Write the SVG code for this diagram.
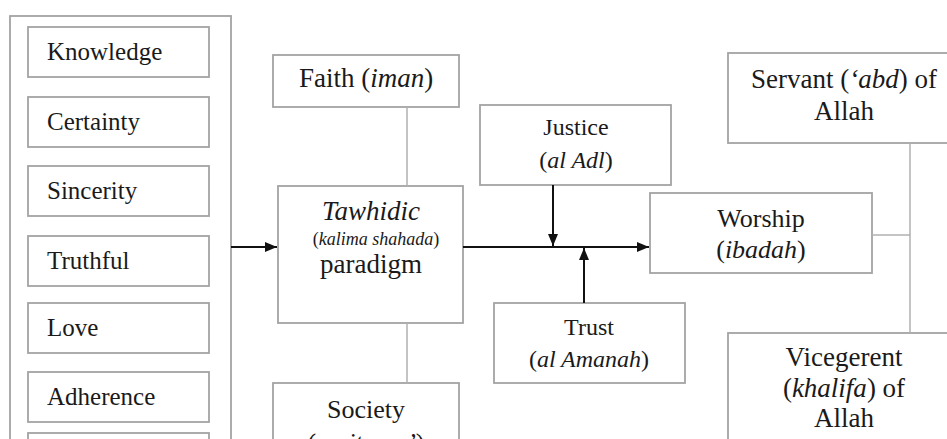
<svg xmlns="http://www.w3.org/2000/svg" width="947" height="439" viewBox="0 0 947 439">
<defs>
<marker id="ah" viewBox="0 0 12 10" refX="12" refY="5" markerWidth="12" markerHeight="10" markerUnits="userSpaceOnUse" orient="auto">
<path d="M0,0 L12,5 L0,10 z" fill="#111"/>
</marker>
</defs>
<style>
rect{fill:#fff;stroke:#a3a3a3;stroke-width:1.8}
text{font-family:"Liberation Serif","Times New Roman",serif;fill:#1a1a1a;font-size:25px}
.c{text-anchor:middle}
.i{font-style:italic}
.gl{stroke:#b0b0b0;stroke-width:1.5;fill:none}
.ar{stroke:#111;stroke-width:2;fill:none;marker-end:url(#ah)}
</style>
<rect width="947" height="439" style="fill:#fff;stroke:none"/>
<g id="attributes">
<rect x="10" y="16" width="221" height="440"/>
<g id="knowledge"><rect x="28" y="27" width="181" height="50"/><text x="47" y="60">Knowledge</text></g>
<g id="certainty"><rect x="28" y="97" width="181" height="50"/><text x="47" y="130">Certainty</text></g>
<g id="sincerity"><rect x="28" y="166" width="181" height="50"/><text x="47" y="199">Sincerity</text></g>
<g id="truthful"><rect x="28" y="236" width="181" height="50"/><text x="47" y="269">Truthful</text></g>
<g id="love"><rect x="28" y="303" width="181" height="50"/><text x="47" y="336">Love</text></g>
<g id="adherence"><rect x="28" y="372" width="181" height="50"/><text x="47" y="405">Adherence</text></g>
<g id="attr7"><rect x="28" y="433" width="181" height="50"/></g>
</g>
<g id="faith"><rect x="273" y="55" width="186" height="52"/><text class="c" x="366" y="87" style="font-size:27px">Faith (<tspan class="i">iman</tspan>)</text></g>
<g id="tawhidic"><rect x="278" y="186" width="185" height="137"/>
<text class="c i" x="371" y="220" style="font-size:27px">Tawhidic</text>
<text class="c" x="376" y="245" style="font-size:18px">(<tspan class="i">kalima shahada</tspan>)</text>
<text class="c" x="371" y="273" style="font-size:27px">paradigm</text></g>
<g id="society"><rect x="273" y="383" width="186" height="80"/><text class="c" x="366" y="418" style="font-size:26px">Society</text><text class="c" x="366" y="451" style="font-size:26px">(<tspan class="i">mujtama’</tspan>)</text></g>
<g id="justice"><rect x="480" y="105" width="191" height="80"/><text class="c" x="576" y="135" style="font-size:24px">Justice</text><text class="c" x="576" y="168" style="font-size:24px">(<tspan class="i">al Adl</tspan>)</text></g>
<g id="trust"><rect x="494" y="303" width="191" height="80"/><text class="c" x="589" y="335" style="font-size:24px">Trust</text><text class="c" x="589" y="367" style="font-size:24px">(<tspan class="i">al Amanah</tspan>)</text></g>
<g id="worship"><rect x="650" y="193" width="222" height="80"/><text class="c" x="761" y="227" style="font-size:26px">Worship</text><text class="c" x="761" y="258" style="font-size:26px">(<tspan class="i">ibadah</tspan>)</text></g>
<g id="servant"><rect x="728" y="53" width="232" height="90"/><text class="c" x="844" y="88" style="font-size:27px">Servant (<tspan class="i">‘abd</tspan>) of</text><text class="c" x="844" y="120" style="font-size:27px">Allah</text></g>
<g id="vicegerent"><rect x="728" y="333" width="232" height="130"/><text class="c" x="844" y="366" style="font-size:27px">Vicegerent</text><text class="c" x="844" y="397" style="font-size:27px">(<tspan class="i">khalifa</tspan>) of</text><text class="c" x="844" y="427" style="font-size:27px">Allah</text></g>
<g id="connectors">
<line class="gl" x1="407" y1="107" x2="407" y2="186"/>
<line class="gl" x1="407" y1="323" x2="407" y2="383"/>
<line class="gl" x1="872" y1="235" x2="910" y2="235"/>
<line class="gl" x1="910" y1="143" x2="910" y2="333"/>
<line class="ar" x1="231" y1="247" x2="277" y2="247"/>
<line class="ar" x1="463" y1="247" x2="649" y2="247"/>
<line class="ar" x1="553" y1="185" x2="553" y2="246"/>
<line class="ar" x1="584" y1="303" x2="584" y2="248"/>
</g>
</svg>
